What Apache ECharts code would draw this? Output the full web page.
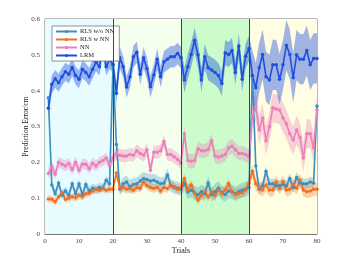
<!DOCTYPE html>
<html><head><meta charset="utf-8">
<script src="https://cdn.jsdelivr.net/npm/echarts@6/dist/echarts.min.js"></script>
<style>html,body{margin:0;padding:0;background:#fff}#c{width:350px;height:263px}</style>
</head><body><div id="c"></div>
<script>
var trials = [];
for (var i = 1; i <= 80; i++) trials.push(i);
var xTicks = [0,10,20,30,40,50,60,70,80];
var yTicks = [0,0.1,0.2,0.3,0.4,0.5,0.6];
var seriesNames = ['RLS w/o NN','RLS w NN','NN','LRM'];
var segmentBounds = [0,20,40,60,80];

var rlsWithout = [0.38,0.137,0.112,0.142,0.108,0.12,0.108,0.14,0.112,0.14,0.11,0.138,0.12,0.128,0.125,0.13,0.128,0.15,0.14,0.47,
 0.25,0.125,0.14,0.145,0.132,0.138,0.14,0.148,0.155,0.152,0.148,0.15,0.145,0.14,0.142,0.165,0.135,0.13,0.128,0.125,
 0.14,0.118,0.122,0.115,0.11,0.118,0.112,0.142,0.11,0.118,0.128,0.115,0.11,0.12,0.118,0.112,0.118,0.122,0.125,0.13,
 0.44,0.19,0.125,0.135,0.175,0.14,0.14,0.135,0.135,0.138,0.135,0.155,0.13,0.158,0.142,0.14,0.14,0.145,0.142,0.357];
var rlsWith = [0.098,0.097,0.09,0.104,0.115,0.097,0.1,0.104,0.101,0.108,0.104,0.112,0.114,0.12,0.124,0.122,0.128,0.122,0.125,0.125,
 0.17,0.127,0.13,0.125,0.128,0.122,0.13,0.127,0.145,0.135,0.13,0.127,0.13,0.12,0.13,0.127,0.137,0.132,0.125,0.128,
 0.155,0.123,0.137,0.114,0.095,0.109,0.118,0.104,0.118,0.107,0.123,0.114,0.123,0.141,0.118,0.11,0.114,0.116,0.123,0.141,
 0.175,0.14,0.128,0.123,0.137,0.123,0.123,0.145,0.128,0.145,0.123,0.125,0.138,0.128,0.15,0.123,0.118,0.12,0.125,0.125];
var nn = [0.169,0.188,0.167,0.2,0.195,0.19,0.197,0.18,0.2,0.178,0.195,0.195,0.183,0.197,0.19,0.2,0.205,0.212,0.192,0.212,
 0.225,0.22,0.218,0.218,0.222,0.22,0.232,0.225,0.22,0.235,0.178,0.228,0.228,0.232,0.258,0.222,0.222,0.215,0.208,0.198,
 0.28,0.205,0.203,0.205,0.238,0.232,0.232,0.236,0.26,0.218,0.215,0.218,0.222,0.24,0.245,0.235,0.225,0.225,0.222,0.215,
 0.33,0.355,0.29,0.324,0.26,0.3,0.352,0.349,0.346,0.324,0.307,0.28,0.262,0.29,0.27,0.212,0.28,0.28,0.24,0.346];
var lrm = [0.351,0.418,0.433,0.422,0.439,0.453,0.446,0.465,0.442,0.432,0.46,0.451,0.439,0.46,0.479,0.467,0.52,0.467,0.486,0.474,
 0.393,0.492,0.467,0.41,0.439,0.495,0.507,0.446,0.492,0.462,0.411,0.444,0.488,0.439,0.481,0.488,0.495,0.495,0.504,0.492,
 0.43,0.467,0.501,0.541,0.5,0.43,0.495,0.464,0.458,0.451,0.442,0.42,0.506,0.501,0.512,0.451,0.525,0.432,0.496,0.518,
 0.442,0.408,0.464,0.501,0.439,0.43,0.472,0.472,0.432,0.472,0.527,0.501,0.436,0.5,0.488,0.488,0.512,0.472,0.49,0.49];

// band half-widths per segment
var bandRlsWithout = [0.012,0.018,0.02,0.015];
var bandRlsWith = [0.01,0.012,0.014,0.018];
var bandNN = [0.015,0.018,0.02,0.04];
var bandLRM = [0.025,0.03,0.035,0.07];

var colors = ['#3b8fc2','#f07021','#ec7fba','#1f4fe0'];
var bandColors = ['rgba(59,143,194,0.3)','rgba(240,112,33,0.3)','rgba(236,127,186,0.35)','rgba(31,79,224,0.42)'];
var bgColors = ['#e8fbff','#f4ffee','#ccfccc','#fffde2'];

function segIdx(t){ return t<=20?0:(t<=40?1:(t<=60?2:3)); }

function bandSeries(vals, band, color){
  return {
    type:'custom', silent:true, z:1, data:[0],
    clip:true,
    renderItem:function(params, api){
      var pts = [];
      for (var i=0;i<vals.length;i++){
        pts.push(api.coord([trials[i], vals[i] + band[segIdx(trials[i])]]));
      }
      for (var j=vals.length-1;j>=0;j--){
        pts.push(api.coord([trials[j], vals[j] - band[segIdx(trials[j])]]));
      }
      return {type:'polygon', shape:{points:pts}, style:{fill:color}};
    }
  };
}
function pairs(vals){ return vals.map(function(v,i){return [trials[i], v];}); }

var allData = [rlsWithout, rlsWith, nn, lrm];
var allBands = [bandRlsWithout, bandRlsWith, bandNN, bandLRM];
var series = [];
var bgAreas = [];
for (var k=0;k<4;k++){
  bgAreas.push([{xAxis:segmentBounds[k], itemStyle:{color:bgColors[k]}},{xAxis:segmentBounds[k+1]}]);
}
series.push({type:'line', data:[], silent:true,
  markArea:{silent:true, data:bgAreas},
  markLine:{silent:true, symbol:'none', label:{show:false}, lineStyle:{color:'#444', type:'solid', width:1},
    data:[{xAxis:20},{xAxis:40},{xAxis:60}]}, z:0});
for (var s=0;s<4;s++){
  series.push(bandSeries(allData[s], allBands[s], bandColors[s]));
}
for (var s2=0;s2<4;s2++){
  series.push({name:seriesNames[s2], type:'line', data:pairs(allData[s2]), symbol:'circle', symbolSize:3.5,
    itemStyle:{color:colors[s2]}, lineStyle:{color:colors[s2], width:1.6}, z:3});
}

var font = 'Liberation Serif';
var chart = echarts.init(document.getElementById('c'), null, {renderer:'canvas'});
chart.setOption({
  animation:false,
  textStyle:{fontFamily:font},
  grid:{left:45, right:33, top:19, bottom:29, show:true, borderColor:'#777', borderWidth:1, backgroundColor:'transparent'},
  legend:{data:seriesNames, orient:'vertical', left:52, top:26, itemWidth:21, itemHeight:4, itemGap:1,
    padding:[2,5,2,3], backgroundColor:'#fff', borderColor:'#777', borderWidth:0.8,
    textStyle:{fontFamily:font, fontSize:6.5, lineHeight:6, color:'#222', padding:[0,0,0,-2]}},
  xAxis:{type:'value', min:0, max:80, interval:10, name:'Trials', nameLocation:'middle', nameGap:13, nameMoveOverlap:false,
    nameTextStyle:{fontFamily:font, fontSize:8, color:'#222'},
    axisLine:{show:true, onZero:false, lineStyle:{color:'#777'}}, axisTick:{show:false}, splitLine:{show:false},
    axisLabel:{fontFamily:font, fontSize:7, color:'#444', margin:4}},
  yAxis:{type:'value', min:0, max:0.6, interval:0.1, name:'Prediction Error/cm', nameLocation:'middle', nameGap:15, nameMoveOverlap:false,
    nameTextStyle:{fontFamily:font, fontSize:7.5, color:'#222'},
    axisLine:{show:true, lineStyle:{color:'#777'}}, axisTick:{show:false}, splitLine:{show:false},
    axisLabel:{fontFamily:font, fontSize:7, color:'#444', margin:5, formatter:function(v){return String(+v.toFixed(1));}}},
  series:series
});
</script></body></html>
